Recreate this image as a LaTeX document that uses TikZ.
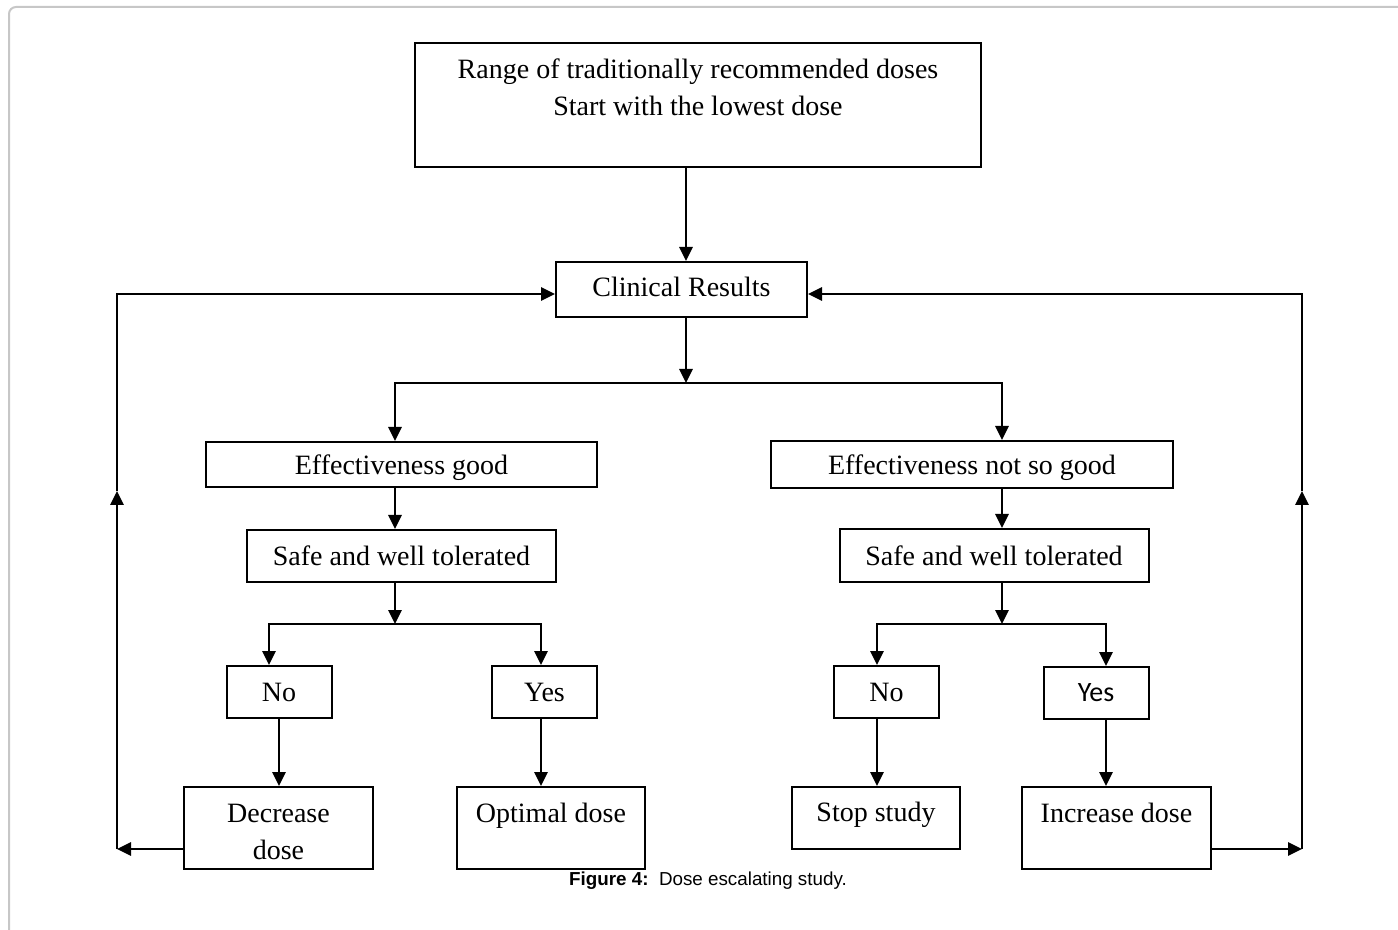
\documentclass[tikz,border=0pt]{standalone}
\usepackage{fontspec}
\setmainfont{Liberation Serif}
\newfontfamily\capfont{Liberation Sans}
\newfontfamily\yesfont{Carlito}
\usetikzlibrary{arrows.meta}

\newlength{\du}
\setlength{\du}{0.5pt}

\definecolor{framecolor}{rgb}{0.780000, 0.780000, 0.780000}
\tikzset{
  box/.style={draw=black, line width=2\du, fill=white, inner sep=0pt,
    align=center, font=\fontsize{14pt}{18.5pt}\selectfont},
  arr/.style={line width=1.4pt, -{Triangle[length=7pt,width=6.5pt]}},
}

\begin{document}
\begin{tikzpicture}
\pgftransformxscale{1.000000}
\pgftransformyscale{-1.000000}
\useasboundingbox (0\du,0\du) rectangle (1398\du,930\du);
% frame
\draw[framecolor, line width=2\du, rounded corners=7\du] (9\du,930\du) -- (9\du,7\du) -- (1398\du,7\du);
% boxes
\node[box, minimum width=566\du, minimum height=124\du] (start) at (698\du,105\du)
  {\strut Range of traditionally recommended doses\\Start with the lowest dose\\\rule[-2.5pt]{0pt}{2.5pt}};
\node[box, minimum width=251\du, minimum height=55\du, text depth=3pt] (clin) at (681.5\du,289.5\du) {Clinical Results};
\node[box, minimum width=391\du, minimum height=45\du, text height=13.5pt, text depth=3pt] (effgood) at (401.5\du,464.5\du) {Effectiveness good};
\node[box, minimum width=402\du, minimum height=47\du, text height=13.5pt, text depth=3pt] (effbad) at (972\du,464.5\du) {Effectiveness not so good};
\node[box, minimum width=309\du, minimum height=52\du] (safel) at (401.5\du,556\du) {Safe and well tolerated};
\node[box, minimum width=309\du, minimum height=53\du] (safer) at (994\du,555.5\du) {Safe and well tolerated};
\node[box, minimum width=105\du, minimum height=52\du] (nol) at (279\du,692\du) {No};
\node[box, minimum width=105\du, minimum height=52\du] (yesl) at (544.5\du,692\du) {Yes};
\node[box, minimum width=105\du, minimum height=52\du] (nor) at (886.5\du,692\du) {No};
\node[box, minimum width=105\du, minimum height=52\du, font=\yesfont\fontsize{14pt}{18.5pt}\selectfont] (yesr) at (1096\du,693\du) {Yes};
\node[box, minimum width=189\du, minimum height=82\du] (decr) at (278.5\du,828\du) {\strut Decrease\\dose};
\node[box, minimum width=188\du, minimum height=82\du] (optim) at (551\du,828\du) {\strut Optimal dose\\\mbox{}};
\node[box, minimum width=168\du, minimum height=62\du, text depth=6pt] (stop) at (876\du,818\du) {Stop study};
\node[box, minimum width=189\du, minimum height=82\du] (incr) at (1116.5\du,828\du) {\strut Increase dose\\\mbox{}};
\node[font=\capfont\fontsize{9.4pt}{11pt}\selectfont] (cap) at (708\du,881\du)
  {\textbf{Figure 4:}\ \ Dose escalating study.};

% arrow positions
\coordinate (xmid) at (686\du,383\du);
\coordinate (xgood) at (395\du,624\du);
\coordinate (xbad) at (1002\du,624\du);
\coordinate (xnol) at (269\du,0\du);
\coordinate (xyesl) at (541\du,0\du);
\coordinate (xnor) at (877\du,0\du);
\coordinate (xyesr) at (1106\du,0\du);
\coordinate (lbot) at (117\du,849\du);
\coordinate (lmid) at (117\du,491\du);
\coordinate (ltop) at (117\du,294\du);
\coordinate (rbot) at (1302\du,849\du);
\coordinate (rmid) at (1302\du,491\du);
\coordinate (rtop) at (1302\du,294\du);

\draw[arr] (start.south -| xmid) -- (clin.north -| xmid);
\draw[arr] (clin.south -| xmid) -- (xmid);
\draw[arr] (xmid) -| (effgood.north -| xgood);
\draw[arr] (xmid) -| (effbad.north -| xbad);
\draw[arr] (effgood.south -| xgood) -- (safel.north -| xgood);
\draw[arr] (effbad.south -| xbad) -- (safer.north -| xbad);
% left branch
\draw[arr] (safel.south -| xgood) -- (xgood);
\draw[arr] (xgood) -| (nol.north -| xnol);
\draw[arr] (xgood) -| (yesl.north -| xyesl);
\draw[arr] (nol.south) -- (decr.north -| nol.south);
\draw[arr] (yesl.south -| xyesl) -- (optim.north -| xyesl);
% right branch
\draw[arr] (safer.south -| xbad) -- (xbad);
\draw[arr] (xbad) -| (nor.north -| xnor);
\draw[arr] (xbad) -| (yesr.north -| xyesr);
\draw[arr] (nor.south -| xnor) -- (stop.north -| xnor);
\draw[arr] (yesr.south -| xyesr) -- (incr.north -| xyesr);
% loops back
\draw[arr] (decr.west |- lbot) -- (lbot);
\draw[arr] (lbot) -- (lmid);
\draw[arr] (lmid) -- (ltop) -- (ltop -| clin.west);
\draw[arr] (incr.east |- rbot) -- (rbot);
\draw[arr] (rbot) -- (rmid);
\draw[arr] (rmid) -- (rtop) -- (rtop -| clin.east);
\end{tikzpicture}
\end{document}
